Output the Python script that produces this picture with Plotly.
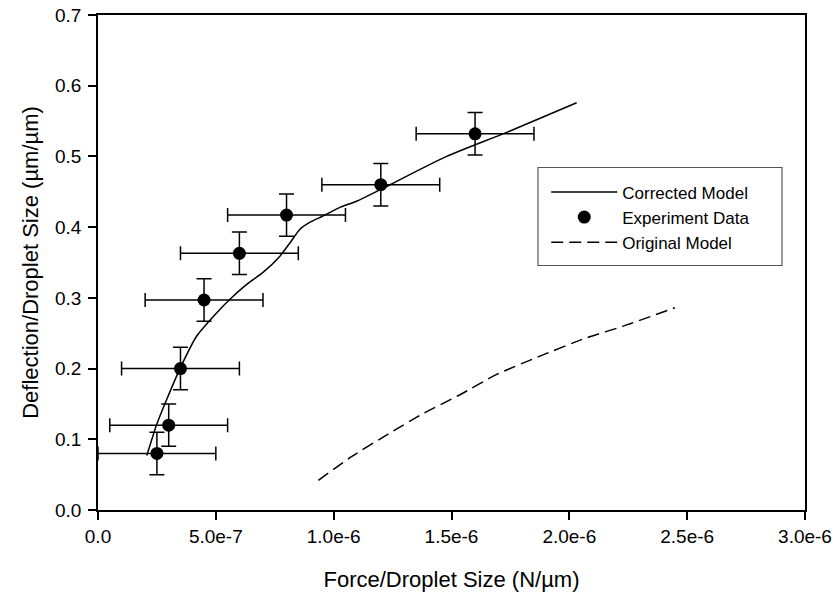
import plotly.graph_objects as go

# Experiment data
exp_x = [2.5e-7, 3.0e-7, 3.5e-7, 4.5e-7, 6.0e-7, 8.0e-7, 1.2e-6, 1.6e-6]
exp_y = [0.08, 0.12, 0.20, 0.297, 0.363, 0.417, 0.46, 0.532]
exp_xerr = [2.5e-7] * 8
exp_yerr = [0.03] * 8

# Corrected model curve
corr_x = [0.207e-6, 0.249e-6, 0.291e-6, 0.348e-6, 0.419e-6, 0.504e-6, 0.56e-6,
          0.631e-6, 0.70e-6, 0.772e-6, 0.815e-6, 0.857e-6, 0.90e-6, 0.95e-6,
          1.027e-6, 1.1e-6, 1.239e-6, 1.479e-6, 1.734e-6, 2.031e-6]
corr_y = [0.077, 0.121, 0.156, 0.20, 0.246, 0.279, 0.298, 0.319, 0.336, 0.359,
          0.378, 0.397, 0.407, 0.415, 0.428, 0.437, 0.46, 0.50, 0.534, 0.576]

# Original model curve
orig_x = [0.935e-6, 1.069e-6, 1.239e-6, 1.38e-6, 1.536e-6, 1.692e-6, 1.875e-6,
          2.073e-6, 2.229e-6, 2.448e-6]
orig_y = [0.042, 0.074, 0.109, 0.1365, 0.163, 0.1917, 0.2176, 0.2435, 0.26, 0.286]

x_tickvals = [0, 5e-7, 1e-6, 1.5e-6, 2e-6, 2.5e-6, 3e-6]
x_ticktext = ["0.0", "5.0e-7", "1.0e-6", "1.5e-6", "2.0e-6", "2.5e-6", "3.0e-6"]
y_tickvals = [0, 0.1, 0.2, 0.3, 0.4, 0.5, 0.6, 0.7]
y_ticktext = ["0.0", "0.1", "0.2", "0.3", "0.4", "0.5", "0.6", "0.7"]

FONT = "Liberation Sans, Arial, sans-serif"

fig = go.Figure()
fig.add_trace(go.Scatter(
    x=corr_x, y=corr_y, mode="lines", name="Corrected Model",
    line=dict(color="black", width=1.5, shape="spline", smoothing=0.6),
))
fig.add_trace(go.Scatter(
    x=exp_x, y=exp_y, mode="markers", name="Experiment Data",
    marker=dict(color="black", size=13),
    error_x=dict(type="data", array=exp_xerr, color="black", thickness=1.5, width=7),
    error_y=dict(type="data", array=exp_yerr, color="black", thickness=1.5, width=7.5),
))
fig.add_trace(go.Scatter(
    x=orig_x, y=orig_y, mode="lines", name="Original Model",
    line=dict(color="black", width=1.5, dash="12px,6px", shape="spline", smoothing=0.6),
))

# legend frame (drawn as a paper-space rectangle around the legend)
fig.add_shape(type="rect", xref="paper", yref="paper",
              x0=0.6223, x1=0.9675, y0=0.4939, y1=0.6919,
              line=dict(color="#555", width=1.2), fillcolor="rgba(0,0,0,0)",
              layer="above")

fig.update_layout(
    width=836, height=598,
    margin=dict(l=98, r=31, t=15, b=88, autoexpand=False),
    paper_bgcolor="white", plot_bgcolor="white",
    font=dict(family=FONT, color="black", size=19),
    showlegend=True,
    legend=dict(
        x=0.634, y=0.591, xanchor="left", yanchor="middle",
        borderwidth=0, bgcolor="rgba(0,0,0,0)",
        font=dict(size=17, family=FONT), itemwidth=66,
    ),
    xaxis=dict(
        range=[0, 3e-6], tickvals=x_tickvals, ticktext=x_ticktext,
        showgrid=False, zeroline=False, showline=True, linecolor="black", linewidth=1.5,
        mirror=True, ticks="outside", ticklen=8, tickwidth=1.5, tickcolor="black",
        automargin=False,
        title=dict(text="Force/Droplet Size (N/µm)", font=dict(size=22), standoff=26),
        tickfont=dict(size=19),
    ),
    yaxis=dict(
        range=[0, 0.7], tickvals=y_tickvals, ticktext=y_ticktext,
        showgrid=False, zeroline=False, showline=True, linecolor="black", linewidth=1.5,
        mirror=True, ticks="outside", ticklen=8, tickwidth=1.5, tickcolor="black",
        ticklabelstandoff=3, automargin=False,
        title=dict(text="Deflection/Droplet Size (µm/µm)", font=dict(size=22), standoff=10),
        tickfont=dict(size=19),
    ),
)

fig.write_html("out.html")
